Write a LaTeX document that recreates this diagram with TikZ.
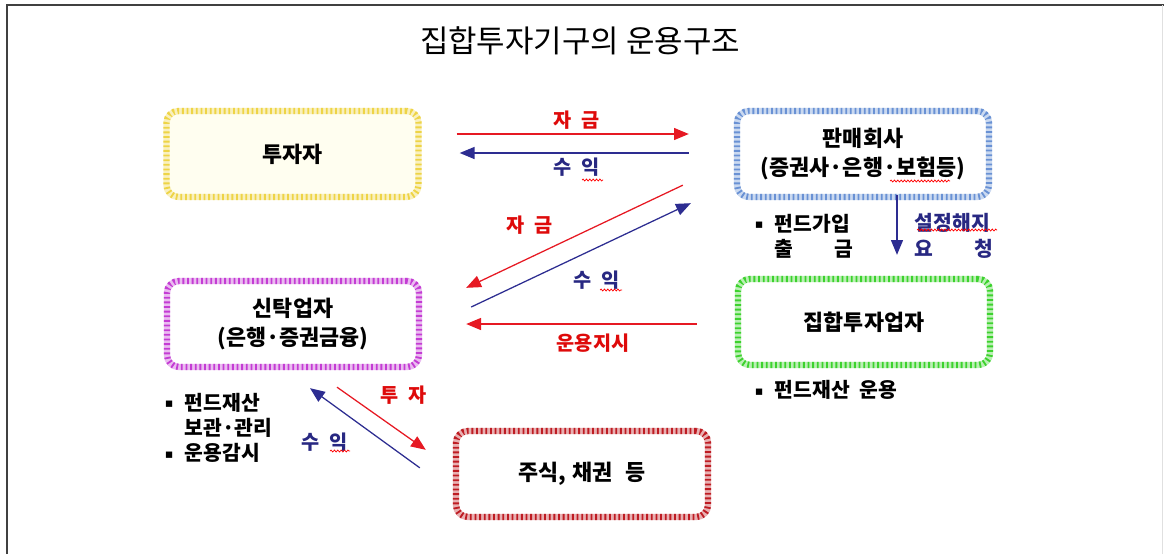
\documentclass[tikz,border=0pt]{standalone}
\usepackage{fontspec}
\setmainfont{Noto Sans CJK KR}
\newfontfamily\symfont{DejaVu Sans}
\usetikzlibrary{
    arrows.meta,
    positioning,
    calc,
    decorations.pathmorphing,
}

\definecolor{boxyellow}{RGB}{238,212,70}
\definecolor{boxblue}{RGB}{105,145,212}
\definecolor{boxmagenta}{RGB}{196,60,212}
\definecolor{boxgreen}{RGB}{60,210,45}
\definecolor{boxred}{RGB}{190,28,35}
\definecolor{flowred}{RGB}{230,25,35}
\definecolor{flowblue}{RGB}{45,45,145}
\definecolor{txtred}{RGB}{222,10,10}
\definecolor{txtblue}{RGB}{40,40,130}

\newcommand{\bul}{\raisebox{0.12em}{\symfont\small ▪}\hspace{0.55em}}

\begin{document}
\begin{tikzpicture}[
    x=0.025cm, y=-0.025cm,
    party/.style={draw=#1!35, fill=white, line width=4.5pt, rounded corners=0.3cm,
        minimum width=6.3cm, minimum height=2.15cm, align=center,
        font=\fontsize{15.5}{20.5}\selectfont\bfseries,
        postaction={draw=#1, line width=4.5pt, dash pattern=on 1.3pt off 2pt}},
    flow/.style={line width=0.9pt, -{Triangle[length=3.7mm, width=3mm]}},
    money/.style={flow, draw=flowred},
    gain/.style={flow, draw=flowblue},
    redlabel/.style={text=txtred, font=\fontsize{14}{16}\selectfont\bfseries},
    bluelabel/.style={text=txtblue, font=\fontsize{14}{16}\selectfont\bfseries},
    note/.style={align=left, font=\fontsize{14.5}{18}\selectfont\bfseries},
    squiggle/.style={draw=red, line width=0.5pt, decorate,
        decoration={snake, amplitude=0.7pt, segment length=2.4pt}},
    ]

\useasboundingbox (0,0) rectangle (1164,554);

% frame and title
\draw[line width=1.2pt, black!75] (7,554) -- (7,5) -- (1164,5);
\draw[black!12] (1162,5) -- (1162,554);
\node (title) at (580,41) {\fontsize{22}{25}\selectfont 집합투자기구의 운용구조};

% parties
\node[party=boxyellow, fill=yellow!6] at (292.5,154) (inv) {투자자};
\node[party=boxblue] at (863,154) (sales) {판매회사\\(증권사·은행·보험등)};
\node[party=boxmagenta] at (293,324) (trust) {신탁업자\\(은행·증권금융)};
\node[party=boxgreen] at (864,322) (mgr) {집합투자업자};
\node[party=boxred] at (582,474) (stock) {주식,\hspace{0.3em}채권\hspace{0.6em}등};

% investor <-> sales company
\draw[money] ([shift={(35,-20)}]inv.east) -- ([shift={(-45,-20)}]sales.west);
\draw[gain] ([shift={(-45,-1)}]sales.west) -- ([shift={(38,-1)}]inv.east);
\node[redlabel] at (577,120) (fund1) {자\hspace{0.5em}금};
\node[bluelabel] at (577,167) (gain1) {수\hspace{0.5em}익};

% sales company <-> trustee
\draw[money] ([shift={(-51,-15)}]sales.south west) -- ([shift={(44,10)}]trust.north east);
\draw[gain] ([shift={(49,-17)}]trust.east) -- ([shift={(-43,3)}]sales.south west);
\node[redlabel] at (530,225) (fund2) {자\hspace{0.5em}금};
\node[bluelabel] at (597,280) (gain2) {수\hspace{0.5em}익};

% manager -> trustee
\draw[money] ([shift={(-38,2)}]mgr.west) -- ([shift={(44,0)}]trust.east);
\node[redlabel] at (593,343) (order) {운용지시};

% sales company -> manager
\draw[gain] ([shift={(34,-5)}]sales.south) -- ([shift={(33,-21)}]mgr.north);
\node[note, anchor=west] at (750,236) (join)
    {\bul 펀드가입\\\phantom{\bul}출\hspace{2em}금};
\node[note, anchor=west] at (910,236) (cancel)
    {\textcolor{txtblue}{설정해지}\\\textcolor{txtblue}{요\hspace{2em}청}};

% trustee <-> stocks
\draw[money] ([shift={(44,17)}]trust.south) -- ([shift={(-27,22)}]stock.north west);
\draw[gain] ([shift={(-33,40)}]stock.north west) -- ([shift={(17,18)}]trust.south);
\node[redlabel] at (404,395) (invest) {투\hspace{0.5em}자};
\node[bluelabel] at (325,442) (gain3) {수\hspace{0.5em}익};

% notes
\node[note, anchor=north west] at (160,388) (custody)
    {\bul 펀드재산\\\phantom{\bul}보관·관리\\\bul 운용감시};
\node[note, anchor=west] at (750,390) (operate) {\bul 펀드재산\hspace{0.5em}운용};

% spelling marks
\draw[squiggle] (582,180) -- (603,180);
\draw[squiggle] (600,290) -- (622,290);
\draw[squiggle] (330,451) -- (350,451);
\draw[squiggle] (890,181) -- (950,181);
\draw[squiggle] (917,230) -- (997,230);

\end{tikzpicture}
\end{document}
